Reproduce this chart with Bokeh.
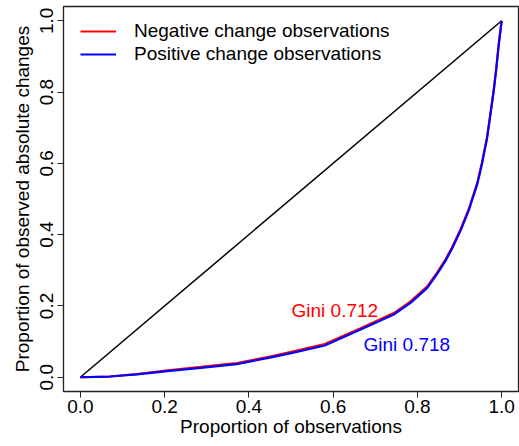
from bokeh.plotting import figure
from bokeh.models import Range1d, FixedTicker, PrintfTickFormatter, Legend, LegendItem
from bokeh.core.properties import value
from bokeh.embed import file_html
from bokeh.resources import INLINE

# Lorenz curve data
obs_prop = [0, 0.07, 0.134, 0.213, 0.292, 0.371, 0.45, 0.506, 0.58, 0.664, 0.744,
            0.783, 0.823, 0.847, 0.866, 0.882, 0.902, 0.922, 0.942, 0.953, 0.965,
            0.973, 0.981, 0.987, 0.993, 1.0]
pos_cum = [0, 0.002, 0.008, 0.018, 0.027, 0.037, 0.055, 0.069, 0.089, 0.133, 0.176,
           0.208, 0.250, 0.290, 0.325, 0.360, 0.410, 0.468, 0.541, 0.597, 0.668,
           0.734, 0.802, 0.862, 0.932, 1.0]
neg_cum = [0, 0.002, 0.009, 0.020, 0.030, 0.040, 0.058, 0.073, 0.093, 0.137, 0.180,
           0.212, 0.254, 0.294, 0.329, 0.364, 0.414, 0.472, 0.545, 0.601, 0.671,
           0.737, 0.804, 0.864, 0.933, 1.0]
equality_x = [0, 1]
equality_y = [0, 1]
gini_labels = ["Gini 0.712", "Gini 0.718"]
gini_x = [0.604, 0.775]
gini_y = [0.187, 0.091]
gini_colors = ["#FF0000", "#0000FF"]
ticks = [0, 0.2, 0.4, 0.6, 0.8, 1.0]

FONT = "Liberation Sans"
FS = "19px"

p = figure(width=519, height=446, output_backend="svg", toolbar_location=None,
           x_range=Range1d(-0.04, 1.04), y_range=Range1d(-0.04, 1.04),
           min_border_left=63, min_border_right=1, min_border_top=6, min_border_bottom=55)
p.background_fill_color = "white"
p.border_fill_color = "white"
p.outline_line_color = "#222222"
p.outline_line_width = 1.3
p.xgrid.visible = False
p.ygrid.visible = False

for ax in (p.xaxis[0], p.yaxis[0]):
    ax.ticker = FixedTicker(ticks=ticks)
    ax.formatter = PrintfTickFormatter(format="%.1f")
    ax.axis_line_color = None
    ax.minor_tick_line_color = None
    ax.major_tick_in = 0
    ax.major_tick_out = 6
    ax.major_tick_line_color = "#222222"
    ax.major_label_text_font = FONT
    ax.major_label_text_font_size = FS
    ax.major_label_text_color = "black"
    ax.axis_label_text_font = FONT
    ax.axis_label_text_font_size = FS
    ax.axis_label_text_font_style = "normal"
    ax.axis_label_text_color = "black"

p.xaxis.axis_label = "Proportion of observations"
p.yaxis.axis_label = "Proportion of observed absolute changes"
p.xaxis.major_label_standoff = 2
p.xaxis.axis_label_standoff = 0
p.yaxis.major_label_standoff = 4
p.yaxis.axis_label_standoff = 5
p.yaxis.major_label_orientation = "vertical"

p.line(equality_x, equality_y, line_color="black", line_width=1.5)
r_neg = p.line(obs_prop, neg_cum, line_color="#FF0000", line_width=2.2)
r_pos = p.line(obs_prop, pos_cum, line_color="#0000FF", line_width=2.2)

p.text(x=gini_x, y=gini_y, text=gini_labels, text_color=gini_colors,
       text_font=value(FONT), text_font_size=value(FS),
       text_align="center", text_baseline="alphabetic")

legend = Legend(items=[LegendItem(label="Negative change observations", renderers=[r_neg]),
                       LegendItem(label="Positive change observations", renderers=[r_pos])],
                location=(12, 321), margin=0, padding=5, spacing=1,
                glyph_width=36, label_standoff=18,
                label_text_font=FONT, label_text_font_size=FS, label_text_color="black",
                background_fill_alpha=0, border_line_alpha=0)
p.add_layout(legend)

open("out.html", "w").write(file_html(p, INLINE))
